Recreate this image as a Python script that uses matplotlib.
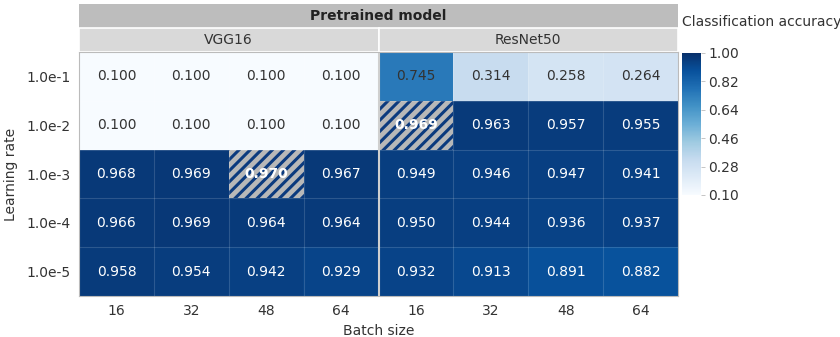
import numpy as np
import matplotlib
matplotlib.use('Agg')
import matplotlib.pyplot as plt
from matplotlib.patches import Rectangle

learning_rates = ['1.0e-1', '1.0e-2', '1.0e-3', '1.0e-4', '1.0e-5']
batch_sizes = ['16', '32', '48', '64']
models = ['VGG16', 'ResNet50']

vgg16_acc = [
    [0.100, 0.100, 0.100, 0.100],
    [0.100, 0.100, 0.100, 0.100],
    [0.968, 0.969, 0.970, 0.967],
    [0.966, 0.969, 0.964, 0.964],
    [0.958, 0.954, 0.942, 0.929],
]
resnet50_acc = [
    [0.745, 0.314, 0.258, 0.264],
    [0.969, 0.963, 0.957, 0.955],
    [0.949, 0.946, 0.947, 0.941],
    [0.950, 0.944, 0.936, 0.937],
    [0.932, 0.913, 0.891, 0.882],
]

W, H = 840, 337
plt.rcParams['font.family'] = 'DejaVu Sans'
plt.rcParams['hatch.linewidth'] = 2.2
txt_col = '#333333'

fig = plt.figure(figsize=(W / 100, H / 100), dpi=100)

def box(x0, y0, x1, y1):
    return [x0 / W, 1 - y1 / H, (x1 - x0) / W, (y1 - y0) / H]

data = np.hstack([np.array(vgg16_acc), np.array(resnet50_acc)])
nrow, ncol = data.shape

ax = fig.add_axes(box(79, 52, 678, 296))
im = ax.imshow(data, cmap='Blues', vmin=0.1, vmax=1.0, aspect='auto')

# best cell per model gets hatched
best = []
for m in range(len(models)):
    block = data[:, m * 4:(m + 1) * 4]
    r, c = np.unravel_index(np.argmax(block), block.shape)
    best.append((r, c + m * 4))
    ax.add_patch(Rectangle((c + m * 4 - 0.5, r - 0.5), 1, 1, facecolor='#b8b8b8',
                           edgecolor='#0b3a7e', hatch='///', lw=0))

for i in range(nrow):
    for j in range(ncol):
        v = data[i, j]
        if (i, j) in best:
            ax.text(j, i, '%.3f' % v, ha='center', va='center', color='white',
                    fontsize=10, fontweight='bold')
        else:
            ax.text(j, i, '%.3f' % v, ha='center', va='center',
                    color='white' if v > 0.8 else txt_col, fontsize=10)

for k in range(1, ncol):
    ax.axvline(k - 0.5, color='white', alpha=0.15, lw=0.8)
for k in range(1, nrow):
    ax.axhline(k - 0.5, color='white', alpha=0.15, lw=0.8)
ax.axvline(3.5, color='#cfcfcf', lw=1.5)

ax.set_xticks(range(ncol))
ax.set_xticklabels(batch_sizes * 2, fontsize=10, color=txt_col)
ax.set_yticks(range(nrow))
ax.set_yticklabels(learning_rates, fontsize=10, color=txt_col)
ax.tick_params(length=0, pad=6)
ax.set_xlabel('Batch size', fontsize=10, color=txt_col, labelpad=4)
ax.set_ylabel('Learning rate', fontsize=10, color=txt_col, labelpad=6)
for s in ax.spines.values():
    s.set_color('#bbbbbb')
    s.set_linewidth(0.8)

# header bands
hax = fig.add_axes(box(79, 4, 678, 52))
hax.set_xlim(-0.5, ncol - 0.5)
hax.set_ylim(0, 2)
hax.axis('off')
hax.add_patch(Rectangle((-0.5, 1), ncol, 1, facecolor='#bdbdbd', lw=0))
hax.text((ncol - 1) / 2, 1.5, 'Pretrained model', ha='center', va='center',
         fontsize=10, fontweight='bold', color='#222222')
for m, name in enumerate(models):
    hax.add_patch(Rectangle((m * 4 - 0.5, 0), 4, 1, facecolor='#d9d9d9',
                            edgecolor='white', lw=1.2))
    hax.text(m * 4 + 1.5, 0.5, name, ha='center', va='center', fontsize=10,
             color=txt_col)

# colorbar
cax = fig.add_axes(box(682, 53, 701, 195))
cb = fig.colorbar(im, cax=cax)
cb.outline.set_visible(False)
cb.set_ticks([0.1, 0.28, 0.46, 0.64, 0.82, 1.0])
cb.ax.set_yticklabels(['%.2f' % t for t in [0.1, 0.28, 0.46, 0.64, 0.82, 1.0]],
                      fontsize=10, color=txt_col)
cb.ax.tick_params(length=3, width=0.6, color='#bbbbbb', pad=2)
fig.text(682 / W, 1 - 22 / H, 'Classification accuracy', fontsize=10,
         color=txt_col, va='center', ha='left')

fig.savefig('out.png', dpi=100)
